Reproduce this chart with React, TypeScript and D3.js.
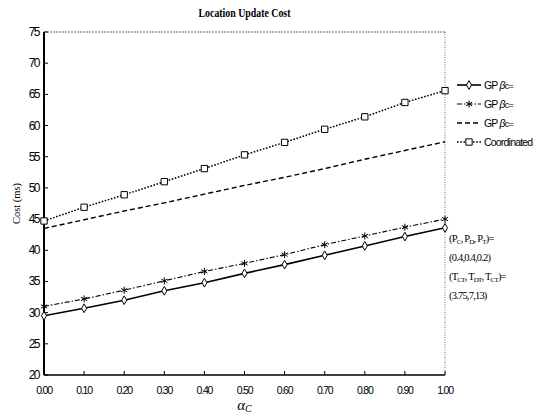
import React from "react";
import * as d3 from "d3";

const alphaC = [0, 0.1, 0.2, 0.3, 0.4, 0.5, 0.6, 0.7, 0.8, 0.9, 1.0];
const gpSolid = [29.5, 30.7, 32.0, 33.5, 34.8, 36.3, 37.7, 39.2, 40.7, 42.2, 43.6];
const gpStar = [31.0, 32.2, 33.6, 35.1, 36.6, 37.9, 39.3, 40.9, 42.3, 43.7, 45.0];
const gpDashed = [43.5, 44.9, 46.3, 47.6, 49.0, 50.4, 51.7, 53.1, 54.6, 56.0, 57.4];
const coordinated = [44.7, 46.9, 48.9, 51.0, 53.1, 55.3, 57.3, 59.4, 61.4, 63.7, 65.6];
const yTicks = [20, 25, 30, 35, 40, 45, 50, 55, 60, 65, 70, 75];
const seriesNames = ["GP \u03b2c=", "GP \u03b2c=", "GP \u03b2c=", "Coordinated"];

const W = 540;
const H = 416;
const m = { left: 44, right: 95, top: 32, bottom: 41 };

export default function App() {
  const x = d3.scaleLinear().domain([0, 1]).range([m.left, W - m.right]);
  const y = d3.scaleLinear().domain([20, 75]).range([H - m.bottom, m.top]);

  const line = (vals: number[]) =>
    d3
      .line<number>()
      .x((_, i) => x(alphaC[i]))
      .y((v) => y(v))(vals) || "";

  const series = [
    { vals: gpSolid, dash: "none", width: 1.6, sym: d3.symbolDiamond, size: 22 },
    { vals: gpStar, dash: "5,2,1.5,2", width: 1.1, sym: d3.symbolAsterisk, size: 34 },
    { vals: gpDashed, dash: "5,3", width: 1.4, sym: null, size: 0 },
    { vals: coordinated, dash: "1.6,1.6", width: 1.5, sym: d3.symbolSquare, size: 40 },
  ];

  const x0 = x(0), x1 = x(1), yb = y(20), yt = y(75);
  const legY = [85, 104, 123, 142];

  return (
    <svg
      width={W}
      height={H}
      style={{ position: "absolute", left: 0, top: 0, background: "#fff" }}
      fontFamily="'Liberation Sans', Arial, sans-serif"
    >
      <rect x={0} y={0} width={W} height={H} fill="#fff" />
      <text
        x={(x0 + x1) / 2}
        y={17}
        textAnchor="middle"
        fontFamily="'Liberation Serif', serif"
        fontSize={12}
        fontWeight="bold"
        textLength={92}
        lengthAdjust="spacingAndGlyphs"
      >
        Location Update Cost
      </text>

      {/* frame */}
      <line x1={x0} x2={x1} y1={yt} y2={yt} stroke="#444" strokeWidth={0.8} strokeDasharray="2,1" />
      <line x1={x1} x2={x1} y1={yt} y2={yb} stroke="#444" strokeWidth={0.8} strokeDasharray="1,1.5" />
      <line x1={x0} x2={x1} y1={yb} y2={yb} stroke="#000" strokeWidth={1.4} />
      <line x1={x0} x2={x0} y1={yt} y2={yb} stroke="#000" strokeWidth={2} />

      {yTicks.map((t) => (
        <g key={"y" + t}>
          <line x1={x0} x2={x0 + 4} y1={y(t)} y2={y(t)} stroke="#000" strokeWidth={1} />
          <text
            x={x0 - 5}
            y={y(t) + 4}
            textAnchor="end"
            fontSize={12}
            letterSpacing={-1.5}
          >
            {t}
          </text>
        </g>
      ))}
      {alphaC.map((t) => (
        <g key={"x" + t}>
          <line x1={x(t)} x2={x(t)} y1={yb} y2={yb - 4} stroke="#000" strokeWidth={1} />
          <text
            x={x(t)}
            y={yb + 19}
            textAnchor="middle"
            fontSize={10.5}
            letterSpacing={-1.2}
          >
            {t.toFixed(2)}
          </text>
        </g>
      ))}

      <text
        transform={`translate(20,${(yt + yb) / 2}) rotate(-90)`}
        textAnchor="middle"
        fontFamily="'Liberation Serif', serif"
        fontSize={10.5}
      >
        Cost (ms)
      </text>
      <text
        x={(x0 + x1) / 2}
        y={410}
        textAnchor="middle"
        fontFamily="'Liberation Serif', serif"
        fontStyle="italic"
        fontSize={15}
      >
        {"\u03b1"}
        <tspan fontSize={10} dy={2}>C</tspan>
      </text>

      {series.map((s, k) => (
        <g key={"s" + k}>
          <path
            d={line(s.vals)}
            fill="none"
            stroke="#000"
            strokeWidth={s.width}
            strokeDasharray={s.dash}
          />
          {s.sym &&
            s.vals.map((v, i) => (
              <path
                key={i}
                d={d3.symbol(s.sym!, s.size)() || ""}
                transform={`translate(${x(alphaC[i])},${y(v)})`}
                fill={s.sym === d3.symbolAsterisk ? "none" : "#fff"}
                stroke="#000"
                strokeWidth={1}
              />
            ))}
        </g>
      ))}

      {/* legend */}
      {series.map((s, k) => (
        <g key={"l" + k}>
          <line
            x1={457}
            x2={481}
            y1={legY[k]}
            y2={legY[k]}
            stroke="#000"
            strokeWidth={s.width}
            strokeDasharray={s.dash}
          />
          {s.sym && (
            <path
              d={d3.symbol(s.sym, s.size)() || ""}
              transform={`translate(469,${legY[k]})`}
              fill={s.sym === d3.symbolAsterisk ? "none" : "#fff"}
              stroke="#000"
              strokeWidth={1}
            />
          )}
          <text x={484} y={legY[k] + 4} fontSize={10.5} letterSpacing={-0.8}>
            {seriesNames[k].startsWith("GP") ? (
              <>
                GP <tspan fontStyle="italic">{"\u03b2"}</tspan>
                <tspan fontSize={9}>c=</tspan>
              </>
            ) : (
              seriesNames[k]
            )}
          </text>
        </g>
      ))}

      {/* parameters */}
      <g fontFamily="'Liberation Serif', serif" fontSize={10.5} letterSpacing={-0.8}>
        <text x={449} y={242}>
          (P<tspan fontSize={7} dy={2}>C</tspan>
          <tspan dy={-2}>, P</tspan>
          <tspan fontSize={7} dy={2}>D</tspan>
          <tspan dy={-2}>, P</tspan>
          <tspan fontSize={7} dy={2}>T</tspan>
          <tspan dy={-2}>)=</tspan>
        </text>
        <text x={449} y={261}>(0.4,0.4,0.2)</text>
        <text x={449} y={280}>
          (T<tspan fontSize={7} dy={2}>CT</tspan>
          <tspan dy={-2}>, T</tspan>
          <tspan fontSize={7} dy={2}>DT</tspan>
          <tspan dy={-2}>, T</tspan>
          <tspan fontSize={7} dy={2}>CT</tspan>
          <tspan dy={-2}>)=</tspan>
        </text>
        <text x={449} y={299}>(3.75,7,13)</text>
      </g>
    </svg>
  );
}
